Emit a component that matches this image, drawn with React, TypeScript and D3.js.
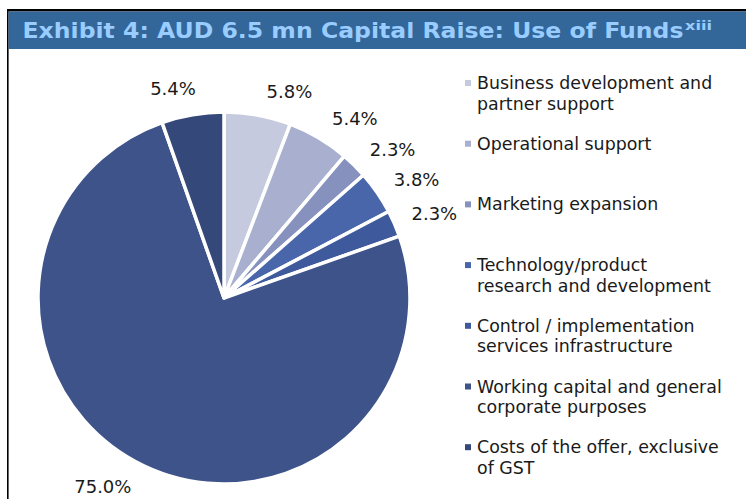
import React from "react";
import * as d3 from "d3";

const title = "Exhibit 4: AUD 6.5 mn Capital Raise: Use of Funds";
const titleSup = "xiii";
const categories = [
  ["Business development and", "partner support"],
  ["Operational support"],
  ["Marketing expansion"],
  ["Technology/product", "research and development"],
  ["Control / implementation", "services infrastructure"],
  ["Working capital and general", "corporate purposes"],
  ["Costs of the offer, exclusive", "of GST"],
];
const values = [5.8, 5.4, 2.3, 3.8, 2.3, 75.0, 5.4];
const colors = ["#c5cadf", "#a8afcf", "#8791be", "#4a66ab", "#3f5a9c", "#3e5389", "#34487a"];

const W = 746;
const H = 499;
const cx = 224;
const cy = 298;
const R = 186;
const labelFont = 18;

export default function App() {
  const pieGen = d3.pie<number>().sort(null).value((d) => d);
  const arcs = pieGen(values);
  const arcGen = d3.arc<d3.PieArcDatum<number>>().innerRadius(0).outerRadius(R);

  const legendY0 = 83;
  const legendStep = 60.7;
  const lineH = 20.5;
  const labelR = 202;
  const angleShift = 0.03;

  return (
    <svg
      width={W}
      height={H}
      style={{ position: "absolute", left: 0, top: 0 }}
      fontFamily="'DejaVu Sans', Verdana, sans-serif"
    >
      <rect x={0} y={0} width={W} height={H} fill="#ffffff" />
      {/* frame */}
      <rect x={7} y={9} width={W - 7} height={2.5} fill="#000" />
      <rect x={7} y={9} width={1.6} height={H - 9} fill="#000" />
      <rect x={8.6} y={11.5} width={W - 8.6} height={37.5} fill="#336699" />
      <text x={22.5} y={38.3} fill="#99ccff" fontWeight="bold" fontSize={21}
        textLength={661} lengthAdjust="spacingAndGlyphs">
        {title}
      </text>
      <text x={685} y={30} fill="#99ccff" fontWeight="bold" fontSize={12.5}
        textLength={27} lengthAdjust="spacingAndGlyphs">
        {titleSup}
      </text>

      <g transform={`translate(${cx},${cy})`}>
        {arcs.map((a, i) => (
          <path key={i} d={arcGen(a) || ""} fill={colors[i]} stroke="#fff" strokeWidth={3.5} strokeLinejoin="round" />
        ))}
        {arcs.map((a, i) => {
          const t = (a.startAngle + a.endAngle) / 2 + angleShift;
          const label = values[i].toFixed(1) + "%";
          const px = labelR * Math.sin(t);
          const py = -labelR * Math.cos(t);
          const anchor = Math.sin(t) >= 0 ? "start" : "end";
          const y = Math.cos(t) >= 0 ? py - labelFont / 2 : py + labelFont / 2;
          return (
            <text key={"l" + i} x={px} y={y} textAnchor={anchor} dominantBaseline="central" fontSize={labelFont} fill="#1a1a1a">
              {label}
            </text>
          );
        })}
      </g>

      {categories.map((lines, i) => {
        const y = legendY0 + i * legendStep;
        return (
          <g key={"lg" + i}>
            <rect x={465} y={y - 3} width={6} height={6} fill={colors[i]} />
            {lines.map((ln, j) => (
              <text key={j} x={477} y={y + j * lineH} dominantBaseline="central" fontSize={17.4} fill="#1a1a1a">
                {ln}
              </text>
            ))}
          </g>
        );
      })}
    </svg>
  );
}
